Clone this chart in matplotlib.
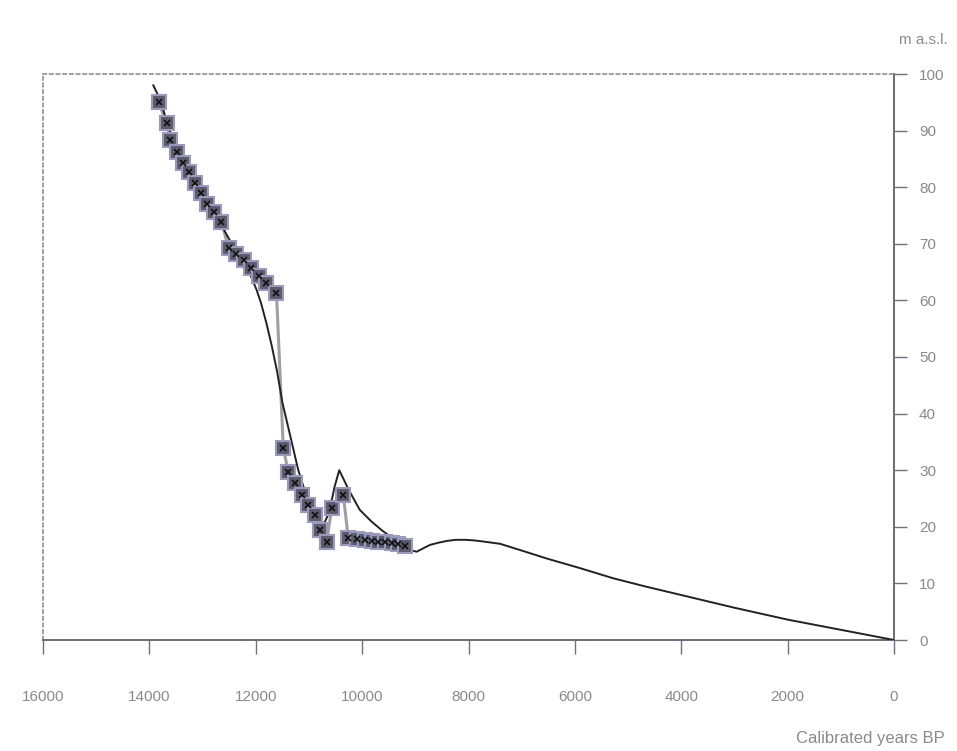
import matplotlib
matplotlib.use("Agg")
import matplotlib.pyplot as plt

# Data: observed shoreline points (years BP, metres a.s.l.)
obs_years = [13828, 13678, 13603, 13490, 13368, 13264, 13142, 13029, 12917, 12785,
             12644, 12512, 12371, 12230, 12089, 11948, 11807, 11610,
             11482, 11388, 11262, 11136, 11012, 10886, 10792, 10666,
             10572, 10354, 10260, 10100, 9946, 9820, 9700, 9570, 9440, 9320, 9194]
obs_level = [95.1, 91.3, 88.4, 86.3, 84.3, 82.7, 80.7, 79.0, 77.1, 75.6,
             73.9, 69.2, 68.2, 67.1, 65.7, 64.3, 63.1, 61.3,
             33.9, 29.7, 27.7, 25.6, 23.9, 22.1, 19.4, 17.4,
             23.3, 25.6, 18.0, 17.8, 17.6, 17.5, 17.4, 17.3, 17.2, 17.0, 16.6]

# Data: modelled shoreline curve
curve_years = [13926, 13800, 13500, 13200, 12900, 12600, 12300, 12100, 11982, 11900,
               11800, 11700, 11600, 11500, 11400, 11300, 11200, 11100, 11000, 10850,
               10720, 10620, 10520, 10430, 10250, 10045, 9832, 9632, 9400, 9105,
               8974, 8850, 8724, 8560, 8410, 8240, 8066, 7900, 7722, 7408,
               7032, 6530, 5904, 5277, 4650, 4024, 3000, 2000, 1000, 0]
curve_level = [98.0, 95.5, 86.5, 81.5, 77.0, 72.5, 67.5, 64.5, 61.8, 59.5,
               56.0, 52.0, 47.5, 42.0, 38.0, 34.0, 30.0, 27.0, 24.5, 22.0,
               20.5, 22.5, 27.0, 30.0, 26.5, 23.0, 21.0, 19.4, 17.8, 15.9,
               15.6, 16.2, 16.8, 17.2, 17.5, 17.7, 17.7, 17.6, 17.4, 17.0,
               15.9, 14.4, 12.7, 10.9, 9.4, 8.0, 5.7, 3.6, 1.8, 0.0]

x_ticks = [16000, 14000, 12000, 10000, 8000, 6000, 4000, 2000, 0]
y_ticks = [0, 10, 20, 30, 40, 50, 60, 70, 80, 90, 100]

plt.rcParams['font.family'] = ['Liberation Sans', 'DejaVu Sans']
txt_color = '#8a8a8a'
fs = 11

fig = plt.figure(figsize=(9.57, 7.51), dpi=100)
ax = fig.add_axes([43/957, 1-640/751, (894-43)/957, (640-74)/751])

ax.plot(obs_years, obs_level, color='#a0a0a0', lw=2.2, zorder=2)
ax.plot(curve_years, curve_level, color='#222222', lw=1.4, zorder=3)
ax.plot(obs_years, obs_level, linestyle='none', marker='s', markersize=10.5,
        markerfacecolor='#5c5c6a', markeredgecolor='#9a9ac0', markeredgewidth=1.5, zorder=4)
ax.plot(obs_years, obs_level, linestyle='none', marker='x', markersize=4,
        color='#111111', markeredgewidth=1.2, zorder=5)

ax.set_xlim(16000, 0)
ax.set_ylim(0, 100)

ax.set_xticks(x_ticks)
ax.set_xticklabels([str(v) for v in x_ticks])
ax.set_yticks(y_ticks)
ax.set_yticklabels([str(v) for v in y_ticks])
ax.yaxis.tick_right()
ax.tick_params(axis='x', direction='out', length=10, width=1, color='#707080',
               labelsize=fs, labelcolor=txt_color, pad=26)
ax.tick_params(axis='y', direction='out', length=9, width=1, color='#707080',
               labelsize=fs, labelcolor=txt_color, pad=9)

for side in ['top', 'left']:
    ax.spines[side].set_color('#909090')
    ax.spines[side].set_linestyle((0, (2, 2)))
    ax.spines[side].set_linewidth(1.2)
for side in ['bottom', 'right']:
    ax.spines[side].set_color('#6a6a7a')
    ax.spines[side].set_linestyle((0, (2, 1)))
    ax.spines[side].set_linewidth(1.4)

fig.text(948/957, 1-40/751, 'm a.s.l.', ha='right', va='center', fontsize=fs, color=txt_color)
fig.text(945/957, 1-738/751, 'Calibrated years BP', ha='right', va='center', fontsize=fs + 1, color=txt_color)

fig.savefig('out.png', dpi=100)
